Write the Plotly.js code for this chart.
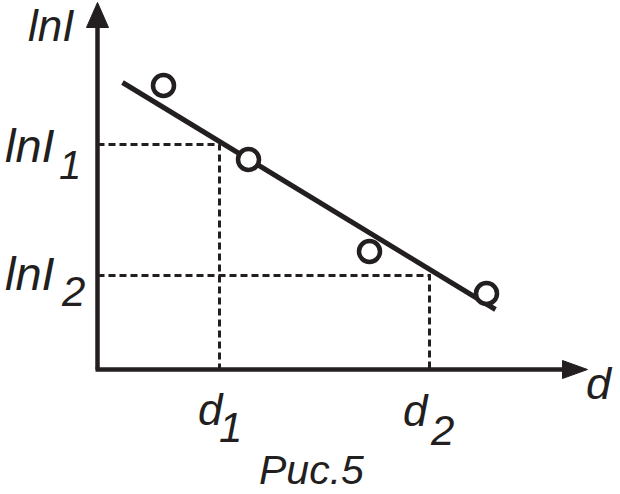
<!DOCTYPE html>
<html>
<head>
<meta charset="utf-8">
<script src="https://cdn.plot.ly/plotly-3.0.1.min.js"></script>
<style>html,body{margin:0;padding:0;background:#fff;}#chart{width:620px;height:494px;}</style>
</head>
<body>
<div id="chart"></div>
<script>
// Measured points (d, lnI) in chart units, origin at the axes corner
var pointD = [66, 151, 272, 389];
var pointLnI = [284, 210, 118, 76];
// Fitted straight line end points
var fitD = [25, 398];
var fitLnI = [287, 60];
// Reference levels
var d1 = 122, d2 = 332;
var lnI1 = 225, lnI2 = 94;
// Axis extents (arrow tips)
var dMax = 490, lnIMax = 367;

var ink = '#231f20';
var FONT = 'Liberation Sans, Arial, sans-serif';

var traces = [
  {x: [0, d1, d1], y: [lnI1, lnI1, 0], mode: 'lines',
   line: {color: ink, width: 3, dash: '7px,4px'}, hoverinfo: 'skip'},
  {x: [0, d2, d2], y: [lnI2, lnI2, 0], mode: 'lines',
   line: {color: ink, width: 3, dash: '7px,4px'}, hoverinfo: 'skip'},
  {x: fitD, y: fitLnI, mode: 'lines', line: {color: ink, width: 5}, hoverinfo: 'skip'},
  {x: pointD, y: pointLnI, mode: 'markers',
   marker: {symbol: 'circle', size: 21, color: '#ffffff', line: {color: ink, width: 4.5}}, hoverinfo: 'skip'},
  // axes
  {x: [0, 0], y: [0, lnIMax - 24], mode: 'lines', line: {color: ink, width: 4.5}, hoverinfo: 'skip'},
  {x: [-2, dMax - 24], y: [0, 0], mode: 'lines', line: {color: ink, width: 4.5}, hoverinfo: 'skip'},
  // arrowheads
  {x: [-11, 0, 11, -11], y: [lnIMax - 25, lnIMax, lnIMax - 25, lnIMax - 25], mode: 'lines',
   fill: 'toself', fillcolor: ink, line: {color: ink, width: 1}, hoverinfo: 'skip'},
  {x: [dMax - 25, dMax, dMax - 25, dMax - 25], y: [-9, 0, 9, -9], mode: 'lines',
   fill: 'toself', fillcolor: ink, line: {color: ink, width: 1}, hoverinfo: 'skip'}
];

// convert pixel centres to chart units: x - 97.5, 369.5 - y
function P(x, y) { return [x - 97.5, 369.5 - y]; }

var ann = [];
function add(text, x, y, size) {
  var p = P(x, y);
  ann.push({text: text, x: p[0], y: p[1], xref: 'x', yref: 'y', showarrow: false,
    xanchor: 'center', yanchor: 'middle', borderpad: 0,
    font: {family: FONT, size: size, color: ink, style: 'italic'}});
}
add('lnI', 51, 25, 44);
add('lnI', 30, 145, 47);
add('1', 70, 165, 40);
add('lnI', 30, 273, 47);
add('2', 73, 291, 42);
add('d', 211, 409, 44);
add('1', 230, 427, 42);
add('d', 416, 410, 44);
add('2', 442, 430, 42);
add('d', 599, 383, 45);
add('Puc.5', 311, 470, 41);

var layout = {
  width: 620, height: 494,
  margin: {l: 0, r: 0, t: 0, b: 0, pad: 0},
  paper_bgcolor: '#ffffff', plot_bgcolor: '#ffffff',
  showlegend: false,
  xaxis: {range: [-97.5, 522.5], visible: false, fixedrange: true},
  yaxis: {range: [-124.5, 369.5], visible: false, fixedrange: true},
  annotations: ann
};

Plotly.newPlot('chart', traces, layout, {staticPlot: true, displayModeBar: false});
</script>
</body>
</html>
